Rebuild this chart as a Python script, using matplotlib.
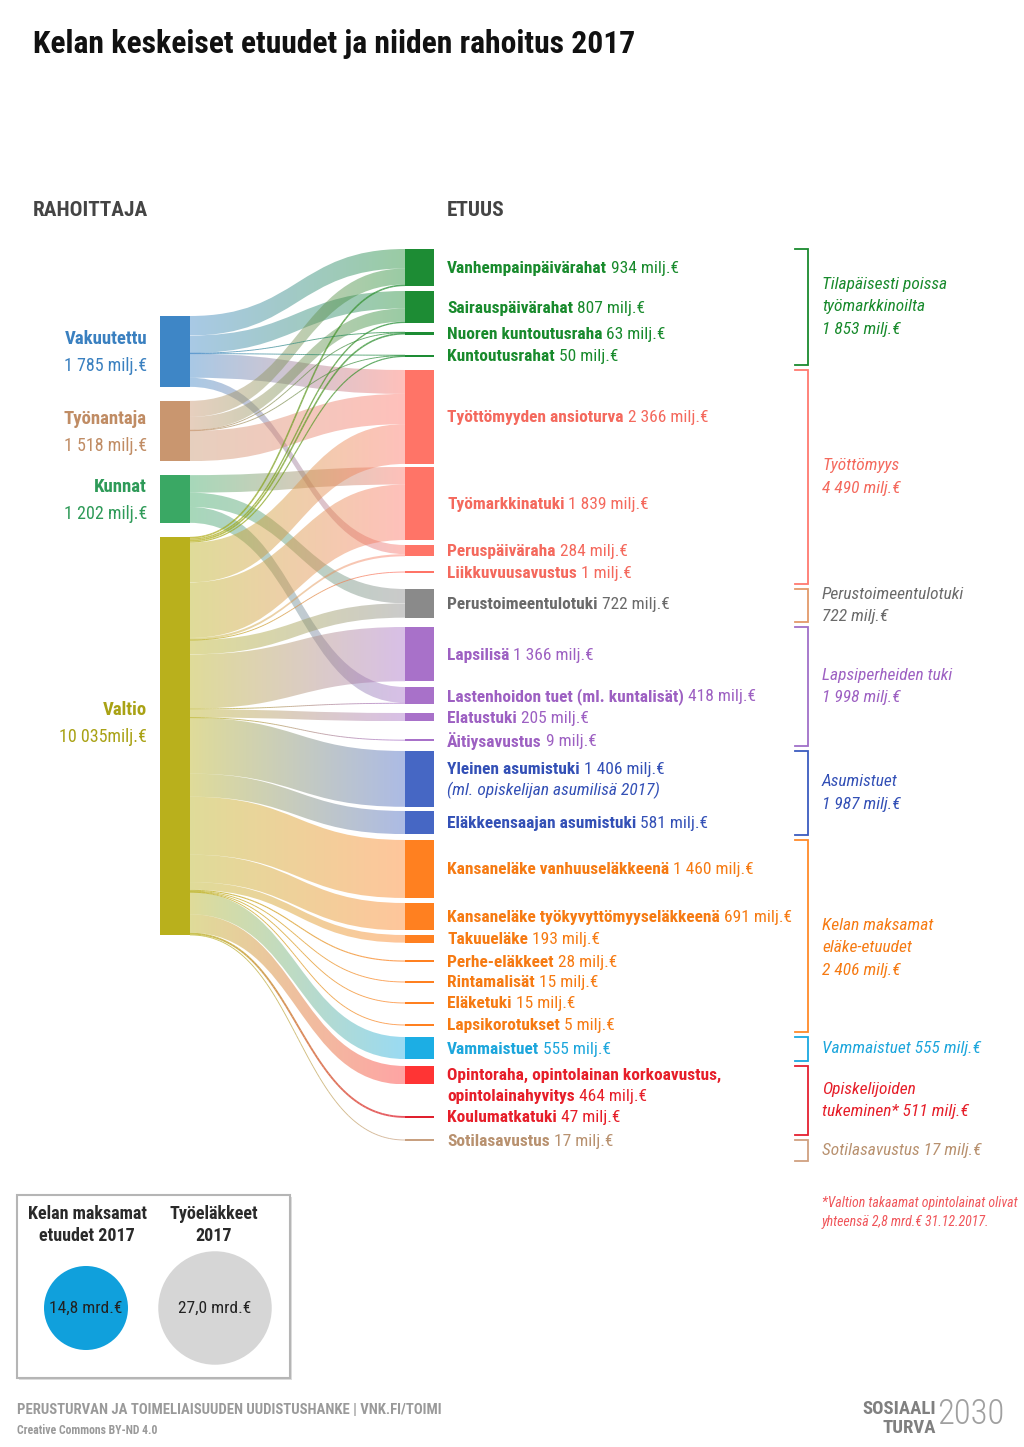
import numpy as np
import matplotlib
matplotlib.use("Agg")
import matplotlib.pyplot as plt
from matplotlib.path import Path
from matplotlib.patches import PathPatch, Rectangle, Circle
from matplotlib.collections import LineCollection
from matplotlib.colors import to_rgb
from matplotlib import font_manager as fm

# ---------------- data ----------------
rahoittajat = ["Vakuutettu", "Työnantaja", "Kunnat", "Valtio"]
rahoittaja_milj = [1785, 1518, 1202, 10035]
rahoittaja_teksti = ["1 785 milj.€", "1 518 milj.€", "1 202 milj.€", "10 035milj.€"]

etuudet = ["Vanhempainpäivärahat", "Sairauspäivärahat", "Nuoren kuntoutusraha",
           "Kuntoutusrahat", "Työttömyyden ansioturva", "Työmarkkinatuki",
           "Peruspäiväraha", "Liikkuvuusavustus", "Perustoimeentulotuki",
           "Lapsilisä", "Lastenhoidon tuet (ml. kuntalisät)", "Elatustuki",
           "Äitiysavustus", "Yleinen asumistuki", "Eläkkeensaajan asumistuki",
           "Kansaneläke vanhuuseläkkeenä", "Kansaneläke työkyvyttömyyseläkkeenä",
           "Takuueläke", "Perhe-eläkkeet", "Rintamalisät", "Eläketuki",
           "Lapsikorotukset", "Vammaistuet",
           "Opintoraha, opintolainan korkoavustus,\nopintolainahyvitys",
           "Koulumatkatuki", "Sotilasavustus"]
etuus_milj = [934, 807, 63, 50, 2366, 1839, 284, 1, 722, 1366, 418, 205, 9,
              1406, 581, 1460, 691, 193, 28, 15, 15, 5, 555, 464, 47, 17]
etuus_huom = {13: "(ml. opiskelijan asumilisä 2017)"}

# rahoitusosuudet: (etuuden indeksi, milj.€)
vakuutettu_osuudet = [(0, 491), (1, 440), (2, 12), (3, 10), (4, 602), (6, 230)]
tyonantaja_osuudet = [(0, 403), (1, 332), (2, 11), (3, 10), (4, 762)]
kunnat_osuudet = [(5, 441), (8, 361), (10, 400)]
valtio_osuudet = [(0, 40), (1, 34), (2, 40), (3, 30), (4, 1002), (5, 1398),
                  (6, 54), (7, 1), (8, 361), (9, 1366), (10, 18), (11, 205),
                  (12, 9), (13, 1406), (14, 581), (15, 1460), (16, 691),
                  (17, 193), (18, 28), (19, 15), (20, 15), (21, 5), (22, 555),
                  (23, 464), (24, 47), (25, 17)]
osuudet = [vakuutettu_osuudet, tyonantaja_osuudet, kunnat_osuudet, valtio_osuudet]

etuus_ryhma = [0, 0, 0, 0, 1, 1, 1, 1, 2, 3, 3, 3, 3, 4, 4, 5, 5, 5, 5, 5, 5, 5, 6, 7, 7, 8]
ryhma_teksti = ["Tilapäisesti poissa\ntyömarkkinoilta\n1 853 milj.€",
                "Työttömyys\n4 490 milj.€",
                "Perustoimeentulotuki\n722 milj.€",
                "Lapsiperheiden tuki\n1 998 milj.€",
                "Asumistuet\n1 987 milj.€",
                "Kelan maksamat\neläke-etuudet\n2 406 milj.€",
                "Vammaistuet 555 milj.€",
                "Opiskelijoiden\ntukeminen* 511 milj.€",
                "Sotilasavustus 17 milj.€"]

kokonaiset = ["14,8 mrd.€", "27,0 mrd.€"]
kokonais_mrd = [14.8, 27.0]
kokonais_otsikot = ["Kelan maksamat\netuudet 2017", "Työeläkkeet\n2017"]

# ---------------- styles / layout ----------------
installed = {f.name for f in fm.fontManager.ttflist}
FONT, S = "Roboto", 0.88
for cand in ["Liberation Sans Narrow", "Roboto Condensed", "Open Sans Condensed"]:
    if cand in installed:
        FONT, S = cand, 1.0
        break

src_col = ["#3e86c6", "#c9966f", "#3aa864", "#b9b01c"]
src_txt = ["#3a80c0", "#c08c64", "#2e9a58", "#a9a215"]
grp_node = ["#1d8c34", "#ff7467", "#8a8a8a", "#a871c9", "#4667c4", "#ff8020",
            "#1caee4", "#ff3434", "#c8a080"]
grp_txt = ["#188a2c", "#f4695d", "#6a6a6a", "#9d60c2", "#3350b6", "#f67a12",
           "#1ca6dc", "#e61e29", "#b8916f"]
grp_brk = ["#1a8a2e", "#ff7a70", "#e39a6a", "#a070c8", "#3c5cbf", "#ff8a2a",
           "#1aa8e0", "#e52030", "#d0a080"]
node_col = [grp_node[g] for g in etuus_ryhma]
node_col[24] = "#e0202e"

k = 0.0397                       # px per milj.€
SX0, SX1 = 160, 190              # source node x-range
TX0, TX1 = 405, 434              # target node x-range
src_top0, src_gap = 316, 14
etuus_y = [249, 291, 332, 355, 370, 467, 545, 572, 589, 627, 687, 713, 740,
           751, 811, 840, 903, 935, 960.5, 981.7, 1002.7, 1024.9, 1037, 1066,
           1116, 1139.7]
label_dy = {23: 10}
ryhma_dy = {5: 12}
ALPHA = 0.45

fig = plt.figure(figsize=(10.24, 14.47), dpi=100)
ax = fig.add_axes([0, 0, 1, 1])
ax.axis("off")
renderer = fig.canvas.get_renderer()


def txt(x, y, s, size, color, weight="normal", style="normal", ha="left",
        va="center", **kw):
    return ax.text(x, y, s, fontsize=size * S, color=color, fontweight=weight,
                   fontstyle=style, ha=ha, va=va, family=FONT, **kw)


def rich(x, y, parts, size, color):
    for s, w, st in parts:
        t = txt(x, y, s, size, color, weight=w, style=st)
        x += t.get_window_extent(renderer=renderer).width


def mix(c0, c1, n):
    a, b = np.array(to_rgb(c0)), np.array(to_rgb(c1))
    t = np.linspace(0, 1, n)[:, None]
    return a * (1 - t) + b * t


def band(x0, x1, ya0, yb0, ya1, yb1, c0, c1):
    xm = (x0 + x1) / 2
    verts = [(x0, ya0), (xm, ya0), (xm, ya1), (x1, ya1), (x1, yb1),
             (xm, yb1), (xm, yb0), (x0, yb0), (x0, ya0)]
    codes = [Path.MOVETO, Path.CURVE4, Path.CURVE4, Path.CURVE4, Path.LINETO,
             Path.CURVE4, Path.CURVE4, Path.CURVE4, Path.CLOSEPOLY]
    patch = PathPatch(Path(verts, codes), fc="none", ec="none")
    ax.add_patch(patch)
    grad = np.ones((1, 256, 4))
    grad[0, :, :3] = mix(c0, c1, 256)
    grad[0, :, 3] = ALPHA
    ylo, yhi = min(ya0, ya1), max(yb0, yb1)
    im = ax.imshow(grad, extent=(x0, x1, yhi, ylo), aspect="auto",
                   interpolation="bilinear", zorder=1)
    im.set_clip_path(patch)


def thin(x0, x1, y0, y1, c0, c1, lw_px):
    t = np.linspace(0, 1, 80)
    xm = (x0 + x1) / 2
    X = (1 - t) ** 3 * x0 + 3 * (1 - t) ** 2 * t * xm + 3 * (1 - t) * t ** 2 * xm + t ** 3 * x1
    Y = (1 - t) ** 3 * y0 + 3 * (1 - t) ** 2 * t * y0 + 3 * (1 - t) * t ** 2 * y1 + t ** 3 * y1
    pts = np.column_stack([X, Y]).reshape(-1, 1, 2)
    segs = np.concatenate([pts[:-1], pts[1:]], axis=1)
    cols = np.column_stack([mix(c0, c1, len(segs)), np.full(len(segs), 0.75)])
    ax.add_collection(LineCollection(segs, colors=cols, linewidths=lw_px * 0.72,
                                     zorder=2, capstyle="butt"))


# source node positions
src_top = []
y = src_top0
for v in rahoittaja_milj:
    src_top.append(y)
    y += v * k + src_gap

# flow stacking
flows = [(si, ti, v) for si, lst in enumerate(osuudet) for ti, v in lst]
s_off = list(src_top)
t_off = list(etuus_y)
f_src, f_tgt = {}, {}
for si, ti, v in sorted(flows, key=lambda f: (f[0], f[1])):
    f_src[(si, ti)] = s_off[si]
    s_off[si] += v * k
for si, ti, v in sorted(flows, key=lambda f: (f[1], f[0])):
    f_tgt[(si, ti)] = t_off[ti]
    t_off[ti] += v * k

for si, ti, v in flows:
    h = v * k
    y0, y1 = f_src[(si, ti)], f_tgt[(si, ti)]
    if h < 2.0:
        thin(SX1, TX0, y0 + h / 2, y1 + h / 2, src_col[si], node_col[ti], max(h, 0.9))
    else:
        band(SX1, TX0, y0, y0 + h, y1, y1 + h, src_col[si], node_col[ti])

# source nodes and labels
for i, (name, v) in enumerate(zip(rahoittajat, rahoittaja_milj)):
    h = v * k
    ax.add_patch(Rectangle((SX0, src_top[i]), SX1 - SX0, h, fc=src_col[i],
                           ec="none", zorder=3))
    cy = src_top[i] + h / 2 if i < 3 else src_top[i] + 185
    txt(147, cy - 12, name, 13.5, src_txt[i], weight="bold", ha="right")
    txt(147, cy + 15, rahoittaja_teksti[i], 13, src_txt[i], ha="right")

# target nodes and labels
for i, (name, v) in enumerate(zip(etuudet, etuus_milj)):
    h = v * k
    top = etuus_y[i]
    if h < 1.5:
        top, h = top + h / 2 - 0.75, 1.5
    ax.add_patch(Rectangle((TX0, top), TX1 - TX0, h, fc=node_col[i],
                           ec="none", zorder=3))
    lines = name.split("\n")
    extra = [etuus_huom[i]] if i in etuus_huom else []
    n = len(lines) + len(extra)
    cy = etuus_y[i] + v * k / 2 + label_dy.get(i, 0) + 1
    y0 = cy - (n - 1) * 10.5
    col = grp_txt[etuus_ryhma[i]]
    val = " " + f"{v:,}".replace(",", " ") + " milj.€"
    for j, ln in enumerate(lines):
        parts = [(ln, "bold", "normal")]
        if j == len(lines) - 1:
            parts.append((val, "normal", "normal"))
        rich(447, y0 + j * 21, parts, 12.5, col)
    for j, ln in enumerate(extra):
        txt(447, y0 + (len(lines) + j) * 21, ln, 12.5, col, style="italic")

# group brackets
starts = [etuus_ryhma.index(g) for g in range(len(ryhma_teksti))]
for g, s in enumerate(starts):
    top = etuus_y[s]
    bot = etuus_y[starts[g + 1]] - 5 if g + 1 < len(starts) else top + 21
    ax.plot([795, 808, 808, 795], [top, top, bot, bot], color=grp_brk[g], lw=1.3,
            solid_joinstyle="miter", zorder=3)
    lines = ryhma_teksti[g].split("\n")
    cy = (top + bot) / 2 + ryhma_dy.get(g, 0)
    for j, ln in enumerate(lines):
        txt(822, cy + (j - (len(lines) - 1) / 2) * 22.5, ln, 12.5,
            grp_txt[g], style="italic")

txt(822, 1203, "*Valtion takaamat opintolainat olivat", 10, "#f0555a", style="italic")
txt(822, 1222, "yhteensä 2,8 mrd.€ 31.12.2017.", 10, "#f0555a", style="italic")

# titles
txt(33, 44, "Kelan keskeiset etuudet ja niiden rahoitus 2017", 22.8, "#111111", weight="bold")
txt(33, 210, "RAHOITTAJA", 15.3, "#444444", weight="bold")
txt(447, 210, "ETUUS", 15.3, "#444444", weight="bold")

# comparison box
ax.add_patch(Rectangle((19, 1197), 273, 183, fc="#dddddd", ec="none", zorder=2))
ax.add_patch(Rectangle((17, 1195), 273, 183, fc="white", ec="#b5b5b5", lw=1.5, zorder=3))
circ_col = ["#10a0dc", "#d6d6d6"]
for i, (lab, val, t) in enumerate(zip(kokonais_otsikot, kokonais_mrd, kokonaiset)):
    cx = [86, 215][i]
    r = 42 * np.sqrt(val / kokonais_mrd[0])
    ax.add_patch(Circle((cx, 1308), r, fc=circ_col[i], ec="none", zorder=4))
    txt(cx, 1308, t, 12.5, "#222222", ha="center", zorder=5)
    for j, ln in enumerate(lab.split("\n")):
        txt([87, 214][i], 1214 + j * 22, ln, 13, "#2a2a2a", weight="bold",
            ha="center", zorder=5)

# footer
txt(17, 1410, "PERUSTURVAN JA TOIMELIAISUUDEN UUDISTUSHANKE | VNK.FI/TOIMI", 10.6,
    "#9a9a9a", weight="bold")
txt(17, 1430, "Creative Commons BY-ND 4.0", 8.5, "#9a9a9a", weight="bold")
txt(936, 1409, "SOSIAALI", 13.5, "#808080", weight="heavy", ha="right")
txt(936, 1428, "TURVA", 13.5, "#808080", weight="heavy", ha="right")
txt(937, 1414, "2030", 25, "#a0a0a0", weight="light")

ax.set_xlim(0, 1024)
ax.set_ylim(1447, 0)
fig.savefig("out.png", dpi=100, facecolor="white")
